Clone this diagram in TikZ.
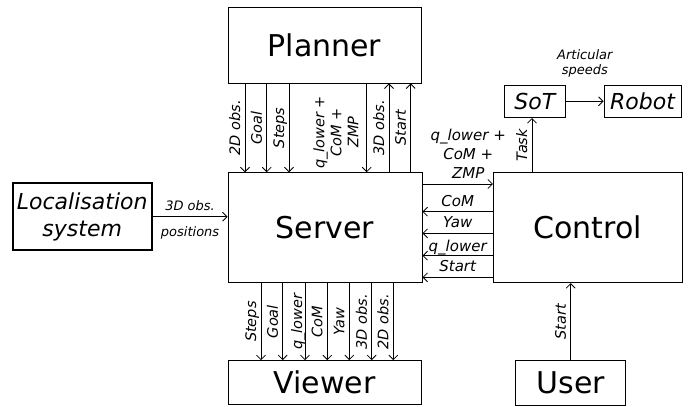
\documentclass[tikz,border=0pt]{standalone}
\usepackage{fontspec}
\setmainfont{DejaVu Sans}
\usetikzlibrary{arrows.meta}
\begin{document}
\begin{tikzpicture}[x=1pt,y=-1pt,
  >={Straight Barb[length=4.5pt,width=9pt]},
  box/.style={draw, line width=0.9pt, inner sep=0pt, font=\fontsize{30}{36}\selectfont},
  ibox/.style={draw, line width=0.9pt, inner sep=0pt, align=center, font=\itshape\fontsize{22}{26.5}\selectfont},
  conn/.style={->, line width=0.8pt},
  vlab/.style={rotate=90, anchor=south, text depth=0pt, inner xsep=0pt, inner ysep=4.5pt, font=\itshape\fontsize{14.5}{17}\selectfont},
  hlab/.style={anchor=south, text depth=0pt, inner sep=0pt, yshift=5pt, font=\itshape\fontsize{15}{19}\selectfont},
  slab/.style={inner sep=0pt, font=\itshape\fontsize{13}{15}\selectfont},
]
\useasboundingbox (0,0) rectangle (697,407);

% boxes
\node[box, minimum width=193pt, minimum height=76pt] (planner) at (324.5,45) {Planner};
\node[box, minimum width=194pt, minimum height=110pt] (server) at (325,227.7) {Server};
\node[box, minimum width=193pt, minimum height=44pt] (viewer) at (324.5,382.6) {Viewer};
\node[box, minimum width=188.7pt, minimum height=110pt] (control) at (587.7,227.7) {Control};
\node[box, minimum width=110pt, minimum height=44.3pt] (user) at (570.7,382.8) {User};
\node[ibox, line width=1.8pt, minimum width=139pt, minimum height=66.7pt] (loc) at (82.2,216.7) {Localisation\\system};
\node[ibox, minimum width=61.7pt, minimum height=32.7pt] (sot) at (534.8,101.3) {SoT};
\node[ibox, minimum width=77pt, minimum height=32.7pt] (robot) at (642.5,101.3) {Robot};

% Planner <-> Server
\draw[conn] (245,0 |- planner.south) -- node[vlab] {2D obs.} (245,0 |- server.north);
\draw[conn] (266.7,0 |- planner.south) -- node[vlab] {Goal} (266.7,0 |- server.north);
\draw[conn] (289,0 |- planner.south) -- node[vlab] {Steps} (289,0 |- server.north);
\draw[conn] (366.7,0 |- planner.south) -- node[vlab, align=center, inner ysep=8pt, yshift=0pt, xshift=0pt, pos=0.55] {q\_lower +\\CoM +\\ZMP} (366.7,0 |- server.north);
\draw[conn] (389,0 |- server.north) -- node[vlab] {3D obs.} (389,0 |- planner.south);
\draw[conn] (410.7,0 |- server.north) -- node[vlab] {Start} (410.7,0 |- planner.south);

% Server -> Viewer
\draw[conn] (261,0 |- server.south) -- node[vlab] {Steps} (261,0 |- viewer.north);
\draw[conn] (282.7,0 |- server.south) -- node[vlab] {Goal} (282.7,0 |- viewer.north);
\draw[conn] (305,0 |- server.south) -- node[vlab, inner ysep=2.5pt] {q\_lower} (305,0 |- viewer.north);
\draw[conn] (327.3,0 |- server.south) -- node[vlab] {CoM} (327.3,0 |- viewer.north);
\draw[conn] (349.3,0 |- server.south) -- node[vlab] {Yaw} (349.3,0 |- viewer.north);
\draw[conn] (371.7,0 |- server.south) -- node[vlab] {3D obs.} (371.7,0 |- viewer.north);
\draw[conn] (393.3,0 |- server.south) -- node[vlab] {2D obs.} (393.3,0 |- viewer.north);

% Localisation -> Server
\draw[conn] (loc.east) -- node[slab, anchor=south, yshift=6pt] {3D obs.} node[slab, anchor=base, yshift=-19.5pt] {positions} (server.west |- loc.east);

% Server <-> Control
\draw[conn] (server.east |- 0,184) -- node[hlab, align=center, pos=0.65] {q\_lower +\\CoM +\\ZMP} (control.west |- 0,184);
\draw[conn] (control.west |- 0,211.7) -- node[hlab] {CoM} (server.east |- 0,211.7);
\draw[conn] (control.west |- 0,233.3) -- node[hlab] {Yaw} (server.east |- 0,233.3);
\draw[conn] (control.west |- 0,255.7) -- node[hlab, yshift=-1pt] {q\_lower} (server.east |- 0,255.7);
\draw[conn] (control.west |- 0,277.3) -- node[hlab] {Start} (server.east |- 0,277.3);

% Control -> SoT -> Robot
\draw[conn] (532,0 |- control.north) -- node[vlab] {Task} (532,0 |- sot.south);
\draw[conn] (sot.east) -- node[slab, anchor=south, align=center, yshift=24pt] {Articular\\speeds} (robot.west);

% User -> Control
\draw[conn] (user.north) -- node[vlab] {Start} (control.south -| user.north);
\end{tikzpicture}
\end{document}
